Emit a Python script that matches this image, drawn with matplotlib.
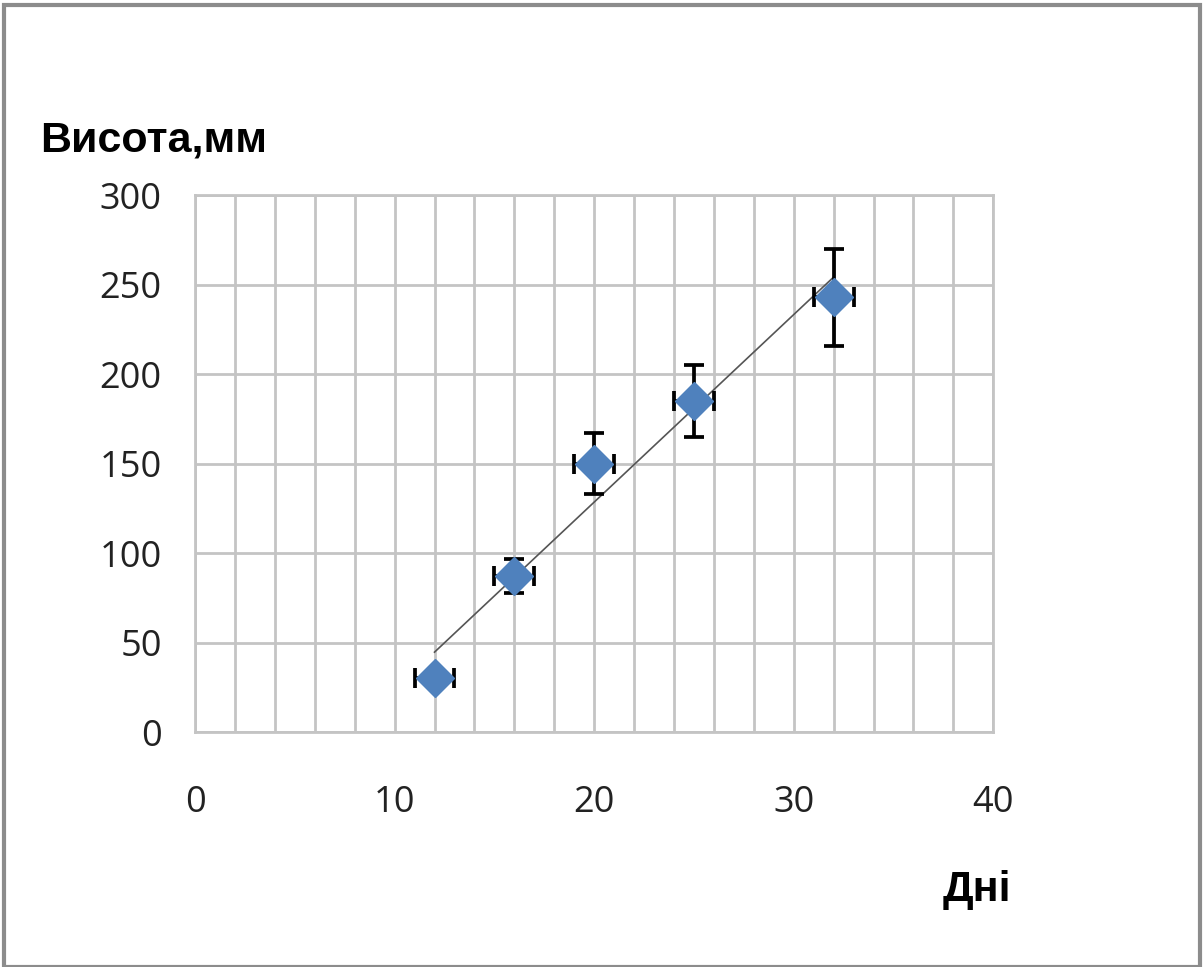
import numpy as np
import matplotlib.pyplot as plt
from matplotlib.patches import Rectangle

days = [12, 16, 20, 25, 32]
height = [30, 87, 150, 185, 243]
x_err = [1, 1, 1, 1, 1]
y_err = [3, 9.5, 17, 20, 27]

fig = plt.figure(figsize=(12.04, 9.67), dpi=100)
ax = fig.add_axes([0.162, 0.243, 0.663, 0.555])

# linear trend line through the points
k, b = np.polyfit(days, height, 1)
xt = np.array([min(days), max(days)])
ax.plot(xt, k * xt + b, color="#555555", lw=1.2, zorder=3)

ax.errorbar(days, height, xerr=x_err, yerr=y_err, fmt="none", ecolor="black",
            elinewidth=2.7, capsize=7, capthick=2.7, zorder=4)
ax.plot(days, height, "D", color="#4F81BD", markersize=19, mec="#4F81BD", zorder=5)

ax.set_xlim(0, 40)
ax.set_ylim(0, 300)
ax.set_xticks(range(0, 41, 2), minor=True)
ax.set_xticks(range(0, 41, 10))
ax.set_yticks(range(0, 301, 50))
ax.grid(True, which="both", color="#c4c4c4", lw=2)
ax.set_axisbelow(True)
for s in ax.spines.values():
    s.set_color("#c4c4c4")
    s.set_linewidth(2)
ax.tick_params(which="both", length=0)
ax.tick_params(axis="x", pad=38, labelsize=26)
ax.tick_params(axis="y", pad=24, labelsize=26)
for lab in ax.get_xticklabels() + ax.get_yticklabels():
    lab.set_fontfamily("Open Sans")
    lab.set_color("#222222")

fig.text(0.033, 0.843, "Висота,мм", fontsize=31, fontweight="bold",
         family="Liberation Sans")
fig.text(0.783, 0.068, "Дні", fontsize=31, fontweight="bold",
         family="Liberation Sans")

fig.patches.append(Rectangle((0.003, 0.0), 0.994, 0.995, transform=fig.transFigure,
                             fill=False, ec="#8c8c8c", lw=3))

fig.savefig("out.png", dpi=100)
